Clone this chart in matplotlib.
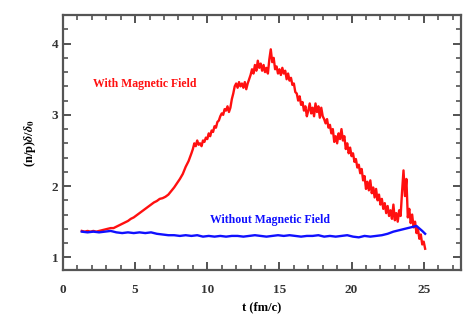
import numpy as np
import matplotlib.pyplot as plt
from matplotlib.ticker import MultipleLocator

# red curve: with magnetic field (coarser sampling before t=9, finer after)
t_red = np.concatenate([np.round(np.arange(1.3, 8.95, 0.2), 2),
                        np.round(np.arange(9.0, 25.15, 0.1), 2)])
y_red = [1.37, 1.36, 1.37, 1.36, 1.37, 1.36, 1.37, 1.38, 1.39, 1.40,
         1.41, 1.41, 1.43, 1.45, 1.47, 1.49, 1.51, 1.54, 1.56, 1.59,
         1.62, 1.65, 1.68, 1.71, 1.74, 1.77, 1.79, 1.82, 1.83, 1.85,
         1.88, 1.93, 1.98, 2.04, 2.10, 2.17, 2.27, 2.35, 2.46,
         # t = 9.0 .. 25.1
         2.52, 2.60, 2.56, 2.64, 2.58, 2.60, 2.56, 2.64, 2.62, 2.68,
         2.66, 2.74, 2.70, 2.78, 2.76, 2.84, 2.82, 2.90, 2.92, 2.98,
         3.02, 3.00, 3.08, 3.06, 3.12, 3.04, 3.10, 3.22, 3.30, 3.40,
         3.44, 3.38, 3.46, 3.40, 3.44, 3.38, 3.46, 3.36, 3.44, 3.50,
         3.56, 3.64, 3.58, 3.70, 3.62, 3.76, 3.66, 3.72, 3.62, 3.70,
         3.60, 3.66, 3.58, 3.78, 3.92, 3.74, 3.80, 3.64, 3.68, 3.58,
         3.64, 3.56, 3.66, 3.58, 3.62, 3.50, 3.58, 3.48, 3.52, 3.42,
         3.44, 3.32, 3.30, 3.20, 3.26, 3.14, 3.18, 3.06, 3.12, 2.98,
         3.06, 3.16, 3.02, 3.10, 2.98, 3.16, 3.04, 3.12, 2.96, 3.10,
         2.98, 2.94, 2.88, 2.94, 2.82, 2.86, 2.74, 2.80, 2.62, 2.70,
         2.60, 2.74, 2.66, 2.80, 2.64, 2.70, 2.52, 2.60, 2.46, 2.54,
         2.42, 2.46, 2.34, 2.38, 2.26, 2.30, 2.18, 2.24, 2.08, 2.14,
         1.96, 2.06, 1.94, 2.08, 1.90, 1.98, 1.84, 1.96, 1.80, 1.88,
         1.74, 1.82, 1.68, 1.76, 1.62, 1.72, 1.58, 1.66, 1.54, 1.74,
         1.52, 1.62, 1.50, 1.66, 1.58, 1.92, 2.22, 1.86, 2.10, 1.56,
         1.68, 1.48, 1.60, 1.42, 1.50, 1.34, 1.40, 1.26, 1.32, 1.18,
         1.22, 1.12]

# blue curve: without magnetic field
t_blue = [1.3, 1.7, 2.1, 2.5, 2.9, 3.3, 3.7, 4.1, 4.5, 4.9, 5.3, 5.7, 6.1,
          6.5, 6.9, 7.3, 7.7, 8.1, 8.5, 8.9, 9.3, 9.7, 10.1, 10.5, 10.9,
          11.3, 11.7, 12.1, 12.5, 12.9, 13.3, 13.7, 14.1, 14.5, 14.9, 15.3,
          15.7, 16.1, 16.5, 16.9, 17.3, 17.7, 18.1, 18.5, 18.9, 19.3, 19.7,
          20.1, 20.5, 20.9, 21.3, 21.7, 22.1, 22.5, 22.9, 23.3, 23.7, 24.1,
          24.5, 24.9, 25.1]
y_blue = [1.36, 1.35, 1.36, 1.35, 1.36, 1.37, 1.35, 1.34, 1.35, 1.34, 1.35,
          1.34, 1.35, 1.33, 1.32, 1.31, 1.31, 1.30, 1.31, 1.30, 1.31, 1.29,
          1.30, 1.29, 1.30, 1.29, 1.30, 1.30, 1.29, 1.30, 1.31, 1.30, 1.29,
          1.30, 1.31, 1.30, 1.31, 1.30, 1.29, 1.30, 1.30, 1.31, 1.29, 1.30,
          1.29, 1.30, 1.31, 1.29, 1.28, 1.30, 1.29, 1.30, 1.31, 1.33, 1.36,
          1.38, 1.40, 1.42, 1.44, 1.37, 1.33]

plt.rcParams['font.family'] = ['Liberation Serif', 'DejaVu Serif']
plt.rcParams['font.weight'] = 'bold'
plt.rcParams['mathtext.fontset'] = 'stix'

fig = plt.figure(figsize=(4.74, 3.29), dpi=100)
ax = fig.add_axes([0.133, 0.179, 0.840, 0.775])

ax.plot(t_red, y_red, color='#ff1010', lw=1.7)
ax.plot(t_blue, y_blue, color='#1010ff', lw=1.7)

ax.text(2.07, 3.44, 'With Magnetic Field', color='#ff1010', fontsize=8.5,
        fontweight='bold', va='center')
ax.text(10.17, 1.53, 'Without Magnetic Field', color='#1010ff', fontsize=8.5,
        fontweight='bold', va='center')

ax.set_xlim(0, 27.6)
ax.set_ylim(0.82, 4.4)
ax.xaxis.set_major_locator(MultipleLocator(5))
ax.xaxis.set_minor_locator(MultipleLocator(1))
ax.yaxis.set_major_locator(MultipleLocator(1))
ax.yaxis.set_minor_locator(MultipleLocator(0.2))
ax.tick_params(which='both', direction='in', top=True, right=True,
               labelsize=9.5, color='#444444', labelcolor='#333333')
ax.tick_params(which='major', length=6, width=1.3)
ax.tick_params(which='minor', length=3.5, width=1.1)
ax.tick_params(axis='x', pad=10)
for s in ax.spines.values():
    s.set_linewidth(1.6)
    s.set_color('#555555')

ax.set_xlabel('t (fm/c)', fontsize=9, fontweight='bold', labelpad=4)
ax.set_ylabel(r'(n/p)$\delta$/$\delta_0$', fontsize=9, fontweight='bold',
              labelpad=10)

fig.savefig('out.png', dpi=100)
